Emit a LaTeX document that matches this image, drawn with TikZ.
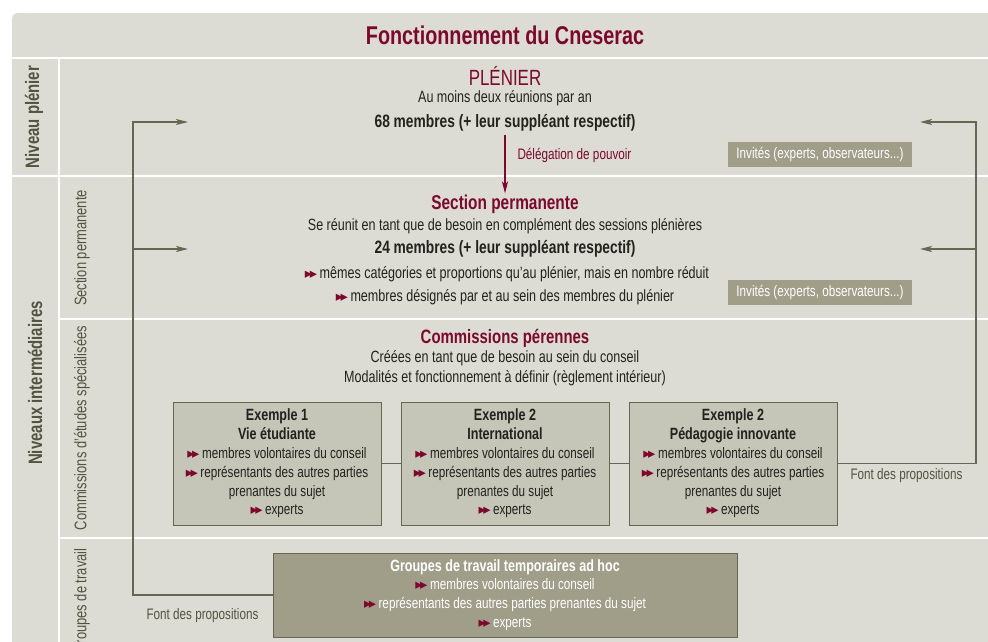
\documentclass[tikz,border=0pt]{standalone}
\usepackage{fontspec}
\setmainfont[FakeStretch=0.77]{Liberation Sans}
\newfontfamily\symfont{DejaVu Sans}
\usetikzlibrary{arrows.meta}
\definecolor{cnred}{RGB}{125,8,45}
\definecolor{panel}{RGB}{220,220,212}
\definecolor{boxfill}{RGB}{197,197,184}
\definecolor{grpfill}{RGB}{160,157,137}
\definecolor{olive}{RGB}{100,104,82}
\definecolor{ink}{RGB}{34,34,30}
\definecolor{lblcol}{RGB}{82,84,66}
\newcommand{\fl}{{\symfont\fontsize{14.5}{12}\selectfont\color{cnred}▸\kern-2.5pt▸}\,}
\newcommand{\hd}[1]{{\fontsize{16.3}{18.8}\selectfont\bfseries #1}}

\begin{document}
\begin{tikzpicture}[x=1pt,y=-1pt,
  txt/.style={text=ink, font=\fontsize{16.3}{18}\selectfont},
  big/.style={text=ink, font=\fontsize{17.9}{20}\selectfont\bfseries},
  rtitle/.style={text=cnred, font=\fontsize{20}{22}\selectfont\bfseries, inner sep=1pt},
  lvl/.style={rotate=90, text=lblcol, font=\fontsize{19.4}{20}\selectfont\bfseries},
  sublvl/.style={rotate=90, text=lblcol, font=\fontsize{16.8}{18}\selectfont},
  exbox/.style={draw=olive, line width=0.8pt, fill=boxfill, minimum width=208, minimum height=123,
    align=center, text=ink, inner sep=0, font=\fontsize{15.2}{18.8}\selectfont},
  guest/.style={fill=grpfill, text=white, minimum width=184, minimum height=25, inner sep=0,
    font=\fontsize{15.2}{17}\selectfont},
  note/.style={text=lblcol, font=\fontsize{15.2}{17}\selectfont, anchor=west},
  link/.style={olive, line width=1.2pt},
  tip/.style={-{Stealth[length=12pt,width=6pt,inset=3pt]}},
  sep/.style={white, line width=2pt}]
\useasboundingbox (0,0) rectangle (988,642);
\clip (0,0) rectangle (988,642);
%
\fill[panel, rounded corners=6pt] (12,13) rectangle (1010,670);
\draw[sep] (12,58) -- (988,58);
\draw[sep] (12,176) -- (988,176);
\draw[sep] (59,319) -- (988,319);
\draw[sep] (59,538) -- (988,538);
\draw[sep] (59,58) -- (59,642);
%
\node[text=cnred, font=\fontsize{25.7}{28}\selectfont\bfseries] at (505,35) (title) {Fonctionnement du Cneserac};
%
\node[lvl] at (34,117) (lvlp) {Niveau plénier};
\node[lvl] at (35,383) (lvli) {Niveaux intermédiaires};
\node[sublvl] at (82,248) (lsp) {Section permanente};
\node[sublvl] at (82,428) (lce) {Commissions d'études spécialisées};
\node[sublvl, anchor=east] at (82,545) (lgt) {Groupes de travail};
%
\node[text=cnred, font=\fontsize{22}{24}\selectfont] at (505,76) (plen) {PLÉNIER};
\node[txt] at (505,98) (plen1) {Au moins deux réunions par an};
\node[big] at (505,123) (m68) {68 membres (+ leur suppléant respectif)};
\node[text=cnred, font=\fontsize{15.2}{17}\selectfont, anchor=west] at (514,155) (deleg) {Délégation de pouvoir};
\node[guest] at (820,154.5) (inv1) {Invités (experts, observateurs...)};
%
\node[rtitle] at (505,204) (sp) {Section permanente};
\node[txt] at (505,226) (sp1) {Se réunit en tant que de besoin en complément des sessions plénières};
\node[big] at (505,249) (m24) {24 membres (+ leur suppléant respectif)};
\node[txt] at (507,274) (sp2) {\fl mêmes catégories et proportions qu'au plénier, mais en nombre réduit};
\node[txt] at (505,297) (sp3) {\fl membres désignés par et au sein des membres du plénier};
\node[guest] at (820,292.5) (inv2) {Invités (experts, observateurs...)};
%
\node[rtitle, font=\fontsize{19.4}{22}\selectfont\bfseries] at (505,338) (cp) {Commissions pérennes};
\node[txt] at (505,358) (cp1) {Créées en tant que de besoin au sein du conseil};
\node[txt] at (505,378) (cp2) {Modalités et fonctionnement à définir (règlement intérieur)};
%
\node[exbox] at (277,463.5) (ex1) {\hd{Exemple 1}\\ \hd{Vie étudiante}\\ \fl membres volontaires du conseil\\ \fl représentants des autres parties\\ prenantes du sujet\\ \fl experts};
\node[exbox] at (505,463.5) (ex2) {\hd{Exemple 2}\\ \hd{International}\\ \fl membres volontaires du conseil\\ \fl représentants des autres parties\\ prenantes du sujet\\ \fl experts};
\node[exbox] at (733,463.5) (ex3) {\hd{Exemple 2}\\ \hd{Pédagogie innovante}\\ \fl membres volontaires du conseil\\ \fl représentants des autres parties\\ prenantes du sujet\\ \fl experts};
\node[note] at (847,476) (fp1) {Font des propositions};
%
\node[exbox, fill=grpfill, text=white, minimum width=464, minimum height=84] at (505,595) (grp) {\hd{Groupes de travail temporaires ad hoc}\\ \fl membres volontaires du conseil\\ \fl représentants des autres parties prenantes du sujet\\ \fl experts};
\node[note] at (143,616) (fp2) {Font des propositions};
%
\coordinate (lt) at (133,122);
\coordinate (lm) at (133,249);
\coordinate (lta) at (188,122);
\coordinate (lma) at (188,249);
\coordinate (rt) at (976,122);
\coordinate (rm) at (976,249);
\coordinate (rta) at (920,122);
\coordinate (rma) at (920,249);
%
\draw[cnred, line width=1.2pt, tip] (m68.south) -- (sp.north);
\draw[link] (ex1) -- (ex2);
\draw[link] (ex2) -- (ex3);
\draw[link, tip] (grp.west) -| (lt) -- (lta);
\draw[link, tip] (lm) -- (lma);
\draw[link, tip] (ex3.east) -| (rt) -- (rta);
\draw[link, tip] (rm) -- (rma);
\end{tikzpicture}
\end{document}
